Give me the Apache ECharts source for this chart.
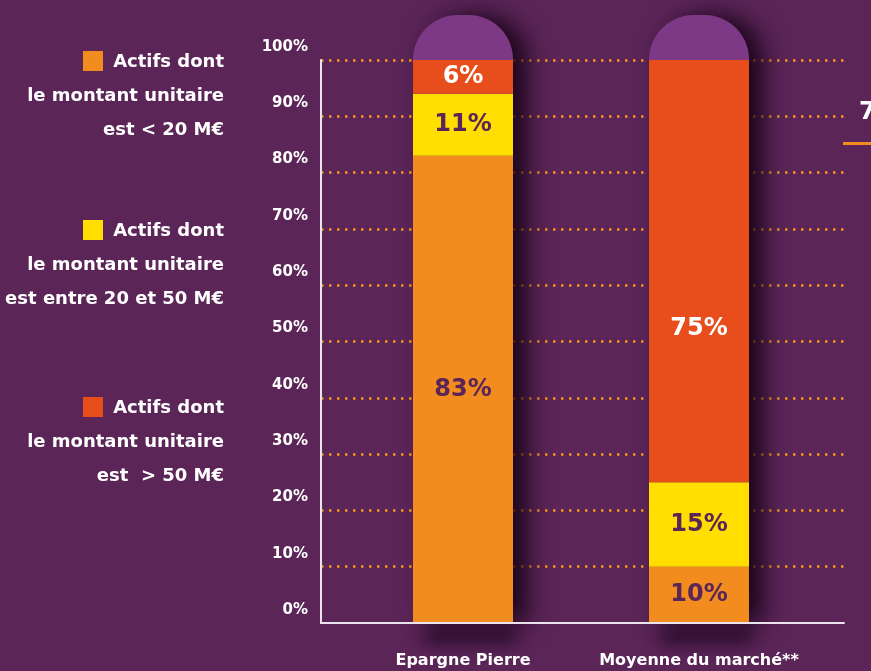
<!DOCTYPE html>
<html>
<head>
<meta charset="utf-8">
<script src="https://cdn.jsdelivr.net/npm/echarts@6/dist/echarts.min.js"></script>
<style>
  html, body { margin: 0; padding: 0; background: #5b2558; }
  #chart { width: 871px; height: 671px; }
</style>
</head>
<body>
<div id="chart"></div>
<script>
// ---- Data ----
const categories = ['Epargne Pierre', 'Moyenne du marché**'];
const under20 = [83, 10];          // Actifs < 20 M€
const between20and50 = [11, 15];   // Actifs entre 20 et 50 M€
const over50 = [6, 75];            // Actifs > 50 M€
const capHeights = [8, 8];         // decorative rounded cap above each bar
const yMin = 0, yMax = 100, yStep = 10;

const legendColors = ['#f28c1e', '#ffde00', '#e84e1b'];
const legendTexts = [
  ['Actifs dont', 'le montant unitaire', 'est < 20 M€'],
  ['Actifs dont', 'le montant unitaire', 'est entre 20 et 50 M€'],
  ['Actifs dont', 'le montant unitaire', 'est  > 50 M€']
];
const sideText = '7';

// ---- Styles ----
const BG = '#5b2558';
const DARK = '#5b2558';
const FONT = 'DejaVu Sans';
const labelBase = { show: true, position: 'inside', formatter: '{c}%', fontFamily: FONT, fontWeight: 'bold', fontSize: 24 };

const chart = echarts.init(document.getElementById('chart'));

// legend graphics
const graphics = [];
const legendTop = [61, 230, 407];
legendTexts.forEach((lines, i) => {
  const y0 = legendTop[i];
  graphics.push({ type: 'rect', shape: { x: 83, y: y0 - 10, width: 20, height: 20 }, style: { fill: legendColors[i] } });
  lines.forEach((t, j) => {
    graphics.push({
      type: 'text', x: 224, y: y0 + 1 + j * 34,
      style: { text: t, fill: '#ffffff', font: 'bold 18px "' + FONT + '"', textAlign: 'right', textVerticalAlign: 'middle' }
    });
  });
});
graphics.push({ type: 'text', x: 859, y: 113, style: { text: sideText, fill: '#ffffff', font: 'bold 24px "' + FONT + '"', textAlign: 'left', textVerticalAlign: 'middle' } });
graphics.push({ type: 'rect', shape: { x: 843, y: 142, width: 30, height: 3 }, style: { fill: '#f28c1e' } });
// soft blurred shadow under the bars below the axis (shape drawn off-canvas, only its shadow shows)
[463, 699].forEach(cx => {
  graphics.push({ type: 'rect', z: -1, shape: { x: cx - 40 - 3000, y: 630, width: 95, height: 14, r: 7 },
    style: { fill: '#000', shadowColor: 'rgba(30,5,30,0.75)', shadowBlur: 16, shadowOffsetX: 3000 } });
});

const totals = categories.map((c, i) => under20[i] + between20and50[i] + over50[i] + capHeights[i]);

const option = {
  backgroundColor: BG,
  animation: false,
  grid: [
    { left: 321, right: 27, top: 60, bottom: 48 },
    { left: 345, right: 54, top: 60, bottom: 48 }
  ],
  xAxis: [
    { type: 'category', gridIndex: 0, data: categories, z: 5,
      axisLine: { show: true, lineStyle: { color: '#ece4ec', width: 2 } },
      axisTick: { show: false }, axisLabel: { show: false } },
    { type: 'category', gridIndex: 1, data: categories,
      axisLine: { show: false }, axisTick: { show: false },
      axisLabel: { interval: 0, color: '#ffffff', fontFamily: FONT, fontWeight: 'bold', fontSize: 16, margin: 30 } }
  ],
  yAxis: [
    { type: 'value', gridIndex: 0, min: yMin, max: yMax, interval: yStep,
      axisLine: { show: true, lineStyle: { color: '#ece4ec', width: 2 } },
      axisTick: { show: false },
      splitLine: { show: true, showMinLine: false, lineStyle: { color: '#f7961f', width: 2.5, type: [2.5, 5.5] } },
      axisLabel: {
        formatter: v => '{v|' + v + '%}\n{s|}',
        margin: 13, verticalAlign: 'middle',
        rich: {
          v: { color: '#ffffff', fontFamily: FONT, fontWeight: 'bold', fontSize: 15, lineHeight: 18, align: 'right' },
          s: { height: 26, lineHeight: 26 }
        }
      } },
    { type: 'value', gridIndex: 1, min: yMin, max: yMax, show: false }
  ],
  series: [
    { name: 'shadow', type: 'bar', xAxisIndex: 1, yAxisIndex: 1, data: totals, barWidth: 100, barGap: '-100%',
      clip: false, silent: true,
      itemStyle: { color: BG, borderRadius: [44, 44, 0, 0], shadowColor: 'rgba(20,0,20,0.9)', shadowBlur: 24, shadowOffsetX: 14 } },
    { name: 'under20', type: 'bar', stack: 's', xAxisIndex: 1, yAxisIndex: 1, data: under20, barWidth: 100, barGap: '-100%',
      itemStyle: { color: legendColors[0] }, label: Object.assign({}, labelBase, { color: DARK }) },
    { name: 'between', type: 'bar', stack: 's', xAxisIndex: 1, yAxisIndex: 1, data: between20and50, barWidth: 100, barGap: '-100%',
      itemStyle: { color: legendColors[1] }, label: Object.assign({}, labelBase, { color: DARK }) },
    { name: 'over50', type: 'bar', stack: 's', xAxisIndex: 1, yAxisIndex: 1, barWidth: 100, barGap: '-100%',
      data: over50.map((v, i) => (v > 50 ? { value: v, label: { offset: [0, 58] } } : v)),
      itemStyle: { color: legendColors[2] }, label: Object.assign({}, labelBase, { color: '#ffffff' }) },
    { name: 'cap', type: 'bar', stack: 's', xAxisIndex: 1, yAxisIndex: 1, data: capHeights, barWidth: 100, barGap: '-100%',
      clip: false, silent: true,
      itemStyle: { color: '#7d3886', borderRadius: [50, 50, 0, 0] }, label: { show: false } }
  ],
  graphic: graphics
};
chart.setOption(option);
</script>
</body>
</html>
